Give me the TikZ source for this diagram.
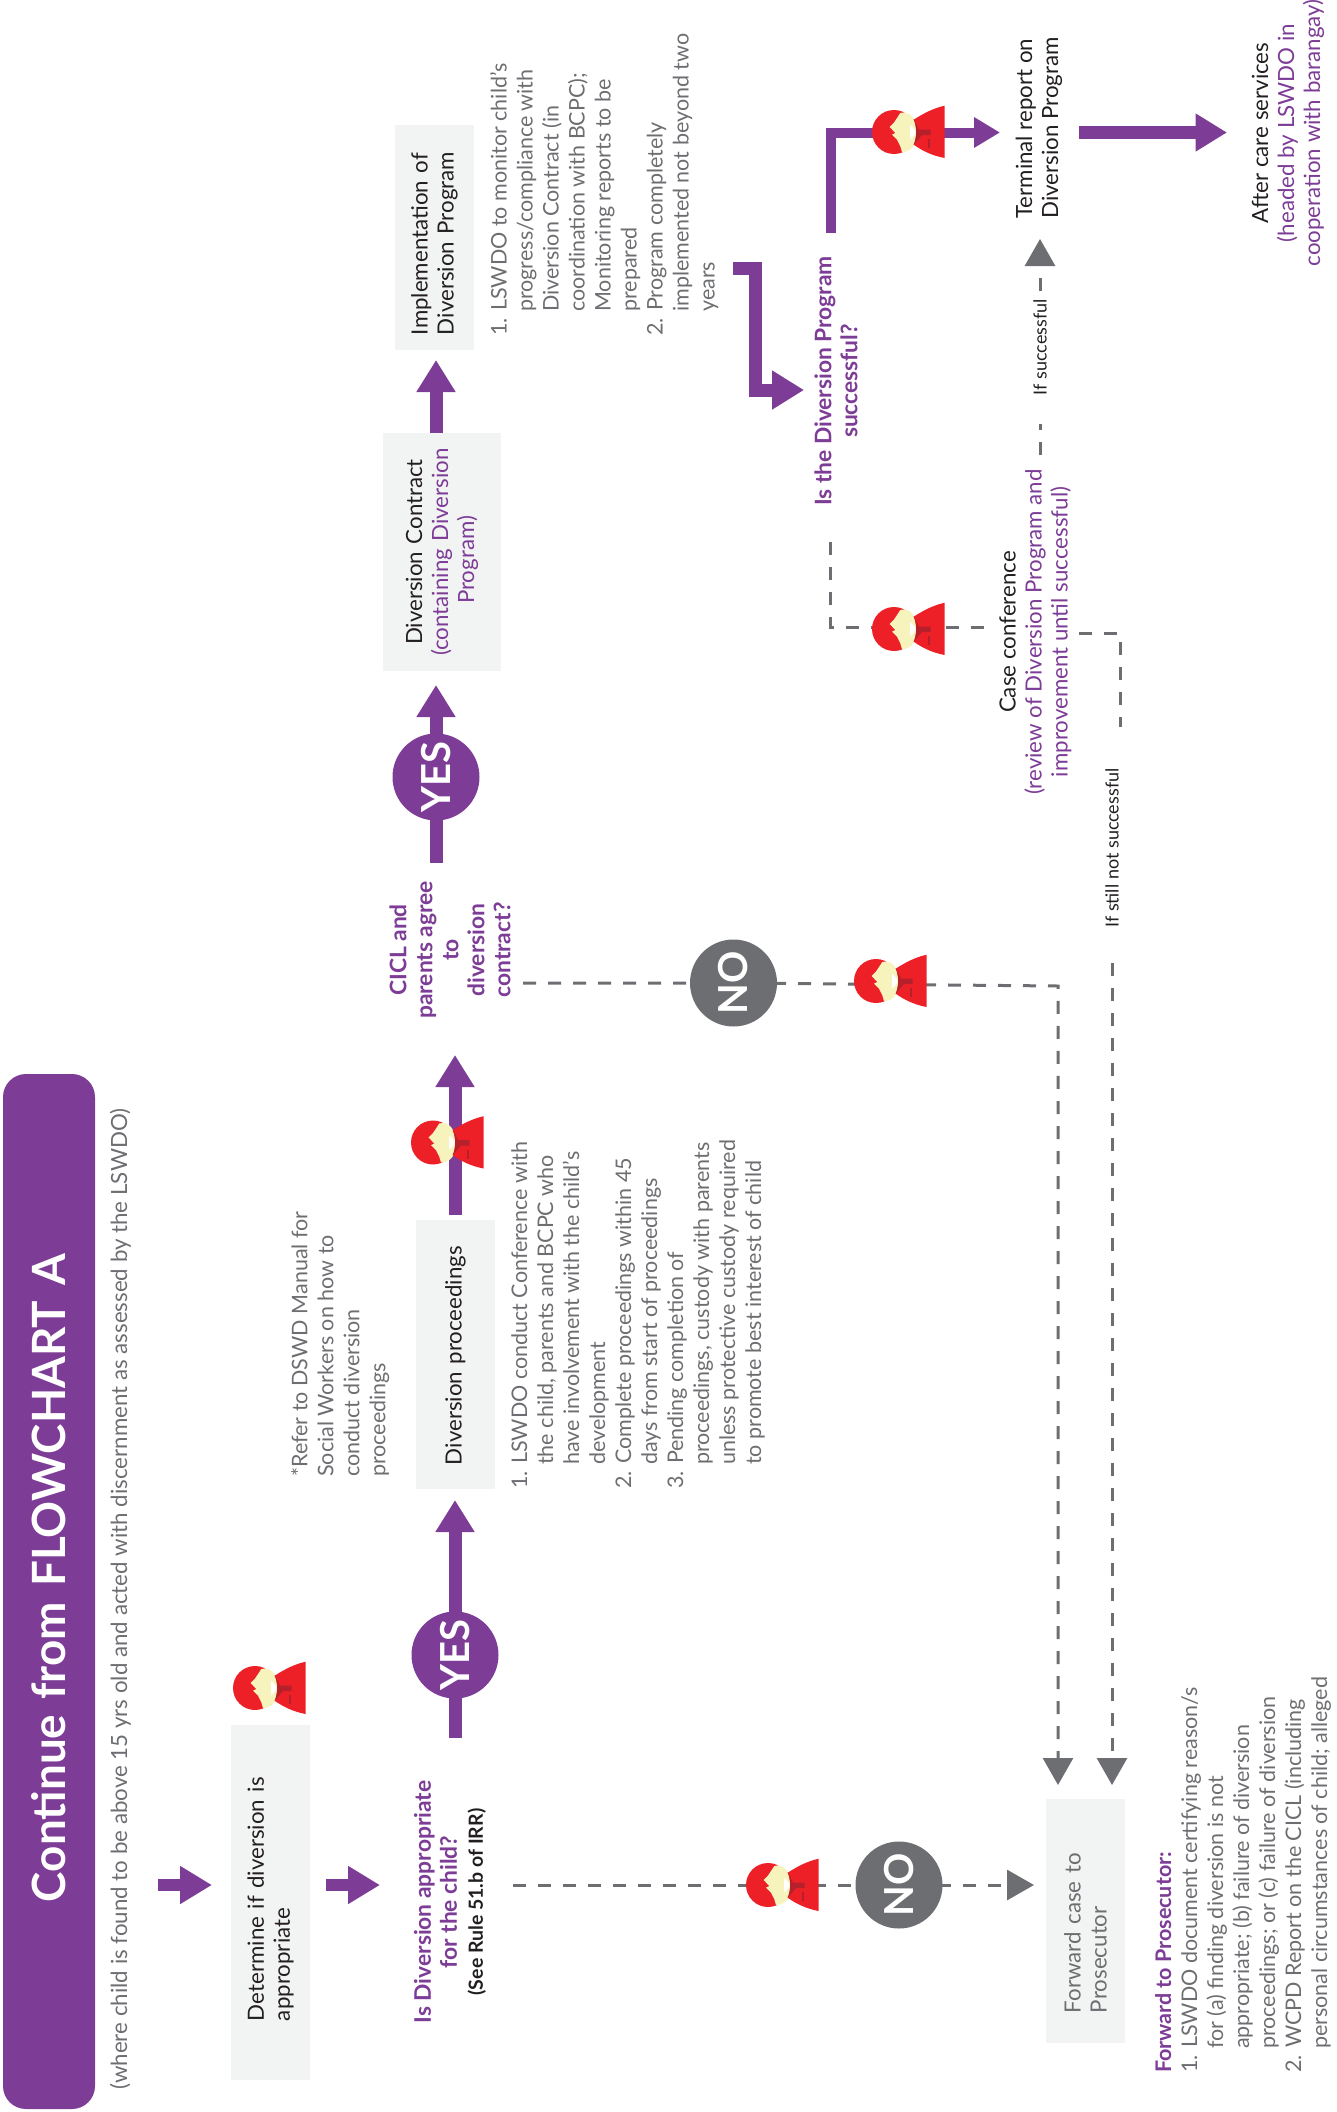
\documentclass[tikz,border=0pt]{standalone}
\usepackage{fontspec}
\setmainfont{Lato}
\usetikzlibrary{arrows.meta,backgrounds}

\definecolor{violetfill}{HTML}{7D3C96}
\definecolor{panelfill}{HTML}{F2F4F3}
\definecolor{slatetext}{HTML}{6D6E71}
\definecolor{inktext}{HTML}{231F20}
\definecolor{capered}{HTML}{EE2027}
\definecolor{capedark}{HTML}{B5202A}
\definecolor{facecream}{HTML}{F6F4BC}

\newcommand{\bodysize}{\fontsize{21.5}{26}\selectfont}
\newcommand{\headsize}{\fontsize{22.3}{26}\selectfont}
\newcommand{\asksize}{\fontsize{22.8}{26}\selectfont}
\newcommand{\ind}{\hspace*{24pt}}

\tikzset{
  panel/.style={rotate=90,fill=panelfill,text=inktext,font=\headsize,inner ysep=0pt},
  listtext/.style={rotate=90,anchor=north west,inner sep=0pt,align=left,text=slatetext,font=\bodysize},
  plaintext/.style={rotate=90,inner sep=0pt,align=center,text=inktext,font=\headsize},
  asktext/.style={rotate=90,inner sep=0pt,align=center,text=violetfill,font=\asksize\bfseries},
  smalltext/.style={rotate=90,inner sep=0pt,text=inktext,font=\fontsize{18}{20}\selectfont},
  badge/.style={circle,rotate=90,minimum size=87pt,inner sep=0pt,text=white,font=\fontsize{40}{42}\selectfont\bfseries},
  fatline/.style={violetfill,line width=13pt,-{Triangle[length=32pt,width=37pt]}},
  thinline/.style={violetfill,line width=10pt,-{Triangle[length=26pt,width=29pt]}},
  dashline/.style={slatetext,line width=3pt,dash pattern=on 13pt off 12pt,-{Triangle[length=27pt,width=30pt]}},
  plaindash/.style={slatetext,line width=3pt,dash pattern=on 13pt off 12pt},
  worker/.pic={
    \fill[capered] (22,0) circle (22);
    \fill[facecream] (30,-20) -- (28.3,-14.3) -- (25,-7.7) -- (20,-2.7) -- (23.3,-1) -- (17.7,5) -- (21.7,9) -- (28.3,19) .. controls (38,22) and (45,12) .. (45,0) .. controls (45,-12) and (40,-20) .. (30,-20) -- cycle;
    \fill[white] (38.3,-7.7) .. controls (41,-5) and (43,-2) .. (43.5,0) .. controls (43,2) and (41,5) .. (38,7) -- cycle;
    \fill[capered] (41.7,-12.7) .. controls (52,-20) and (62,-24) .. (72.7,-26) -- (72.7,26.3) .. controls (62,24) and (52,19) .. (41.7,12.3) .. controls (45,5) and (45,-5) .. (41.7,-12.7) -- cycle;
    \fill[capedark] (41.7,-12.7) -- (50,-3) -- (58.7,-3) -- (58.7,2.3) -- (47,2.3) -- (41.7,13) .. controls (45,5) and (45,-5) .. (41.7,-12.7) -- cycle;
    \draw[capedark,line width=2pt] (57,-16) -- (57,-7);
  }
}

\begin{document}
\begin{tikzpicture}[x=1pt,y=1pt,yscale=-1,xscale=1]
    \useasboundingbox (0,0) rectangle (1336,2112);

    % banner and the line under it
    \node[rotate=90,fill=violetfill,rounded corners=23pt,minimum height=92pt,inner xsep=207pt,text width=621pt,align=left,text=white,font=\fontsize{45.8}{50}\selectfont\bfseries] (banner) at (49,1591.5) {\mbox{Continue from FLOWCHART A}};
    \node[plaintext,text=slatetext] (subtitle) at (120.5,1599) {(where child is found to be above 15 yrs old and acted with discernment as assessed by the LSWDO)};

    % boxes
    \node[panel,minimum height=79pt,inner xsep=59pt,text width=237pt,align=left] (determine) at (270.5,1902.5) {\mbox{Determine if diversion is}\\appropriate};
    \node[panel,minimum height=79pt,inner xsep=24pt,text width=221pt,align=left] (proceed) at (455.5,1354.5) {Diversion proceedings};
    \node[panel,minimum height=118pt,inner xsep=15pt,text width=208pt,align=center] (contract) at (442,552) {Diversion Contract\hspace*{16pt}\\{\color{violetfill}(containing Diversion}\hspace*{16pt}\\{\color{violetfill}Program)}\hspace*{16pt}};
    \node[panel,minimum height=79pt,inner xsep=15pt,text width=195pt,align=left] (impl) at (434.5,237.5) {Implementation of\\Diversion Program};
    \node[panel,minimum height=79pt,inner xsep=30pt,text width=184pt,align=left,text=slatetext] (forward) at (1085.5,1921) {Forward case to\\Prosecutor};

    % questions
    \node[asktext] (ask_a) at (450,1902) {Is Diversion appropriate\\for the child?\\{\fontsize{19.5}{23}\selectfont\color{inktext}(See Rule 51.b of IRR)}};
    \node[asktext] (ask_b) at (450,950) {CICL and\\parents agree\\to\\diversion\\contract?};
    \node[asktext] (ask_c) at (836,381) {Is the Diversion Program\\successful?};

    % decisions
    \node[badge,fill=violetfill] (yes_a) at (455,1655) {YES};
    \node[badge,fill=violetfill] (yes_b) at (436,777) {YES};
    \node[badge,fill=slatetext] (no_a) at (899,1885) {NO};
    \node[badge,fill=slatetext] (no_b) at (733.5,983) {NO};

    % lists
    \node[listtext] (note_a) at (291,1477) {*Refer to DSWD Manual for\\Social Workers on how to\\conduct diversion\\proceedings};
    \node[listtext] (list_a) at (511,1489) {1. LSWDO conduct Conference with\\\ind the child, parents and BCPC who\\\ind have involvement with the child’s\\\ind development\\2. Complete proceedings within 45\\\ind days from start of proceedings\\3. Pending completion of\\\ind proceedings, custody with parents\\\ind unless protective custody required\\\ind to promote best interest of child};
    \node[listtext] (list_b) at (490,336) {1. LSWDO to monitor child’s\\\ind progress/compliance with\\\ind Diversion Contract (in\\\ind coordination with BCPC);\\\ind Monitoring reports to be\\\ind prepared\\2. Program completely\\\ind implemented not beyond two\\\ind years};
    \node[listtext] (list_c) at (1155,2073) {{\bfseries\color{violetfill}Forward to Prosecutor:}\\1. LSWDO document certifying reason/s\\\ind for (a) finding diversion is not\\\ind appropriate; (b) failure of diversion\\\ind proceedings; or (c) failure of diversion\\2. WCPD Report on the CICL (including\\\ind personal circumstances of child; alleged};

    % right hand side
    \node[plaintext] (case) at (1035.5,632) {Case conference\\{\color{violetfill}(review of Diversion Program and}\\{\color{violetfill}improvement until successful)}};
    \node[plaintext,align=left] (terminal) at (1039,128) {Terminal report on\\Diversion Program};
    \node[plaintext] (after) at (1288,133) {After care services\\{\color{violetfill}(headed by LSWDO in}\\{\color{violetfill}cooperation with barangay)}};
    \node[smalltext] (ifok) at (1040,347) {If successful};
    \node[smalltext] (iffail) at (1112,848) {If still not successful};

    % bends and free ends
    \coordinate (row_a) at (0,1885);
    \coordinate (turn_a) at (1058,986);
    \coordinate (turn_b) at (830.5,627);
    \coordinate (turn_c) at (1120,633);
    \coordinate (turn_d) at (831,132.5);
    \coordinate (lead_a) at (733,268);
    \coordinate (bend_a) at (755,268);
    \coordinate (bend_b) at (755,390);

    % people
    \pic at (233,1688) {worker};
    \pic at (411,1142.5) {worker};
    \pic at (746,1885) {worker};
    \pic at (854,981) {worker};
    \pic at (872,629) {worker};
    \pic at (872,132) {worker};

    \begin{scope}[on background layer]
    % purple flow
    \draw[fatline,line width=12pt,-{Triangle[length=32pt,width=36pt]},shorten <=37.5pt,shorten >=58.5pt] (subtitle |- row_a) -- (determine |- row_a);
    \draw[fatline,line width=12pt,-{Triangle[length=32pt,width=36pt]},shorten <=55.5pt,shorten >=70pt] (determine |- row_a) -- (ask_a |- row_a);
    \draw[fatline,shorten <=164pt,shorten >=145.5pt] (yes_a |- ask_a) -- (yes_a |- proceed);
    \draw[fatline,shorten <=139.5pt,shorten >=105pt] (yes_a |- proceed) -- (yes_a |- ask_b);
    \draw[fatline,shorten <=87pt,shorten >=133pt] (yes_b |- ask_b) -- (yes_b |- contract);
    \draw[fatline,shorten <=119pt,shorten >=122.5pt] (yes_b |- contract) -- (yes_b |- impl);
    \draw[fatline,line join=miter] (lead_a) -- (bend_a) -- (bend_b) -- ([xshift=-32pt]ask_c |- bend_b);
    \draw[thinline,line join=miter,shorten <=148pt,shorten >=39pt] (turn_d |- ask_c) -- (turn_d) -- (terminal |- turn_d);
    \draw[fatline,-{Triangle[length=31.5pt,width=36pt]},shorten <=40pt,shorten >=61pt] (terminal |- turn_d) -- (after |- turn_d);
    % dashed flow
    \draw[dashline,shorten <=63pt,shorten >=51.5pt] (ask_a |- no_a) -- (forward |- no_a);
    \draw[dashline,shorten <=73pt,shorten >=136pt] (ask_b |- no_b) -- (no_b.center) -- (turn_a) -- (turn_a |- forward);
    \draw[plaindash,shorten <=161pt,shorten >=49.5pt] (turn_b |- ask_c) -- (turn_b) -- (case |- turn_b);
    \draw[plaindash,shorten <=43.5pt,shorten >=121pt] (case |- turn_c) -- (turn_c) -- (turn_c |- iffail);
    \draw[dashline,shorten <=115pt,shorten >=136pt] (iffail.center) -- (iffail |- forward);
    \draw[plaindash,shorten <=177pt,shorten >=77pt] (ifok |- case) -- (ifok.center);
    \draw[dashline,shorten <=56pt,shorten >=111pt] (ifok.center) -- (ifok |- terminal);
    \end{scope}
\end{tikzpicture}
\end{document}
